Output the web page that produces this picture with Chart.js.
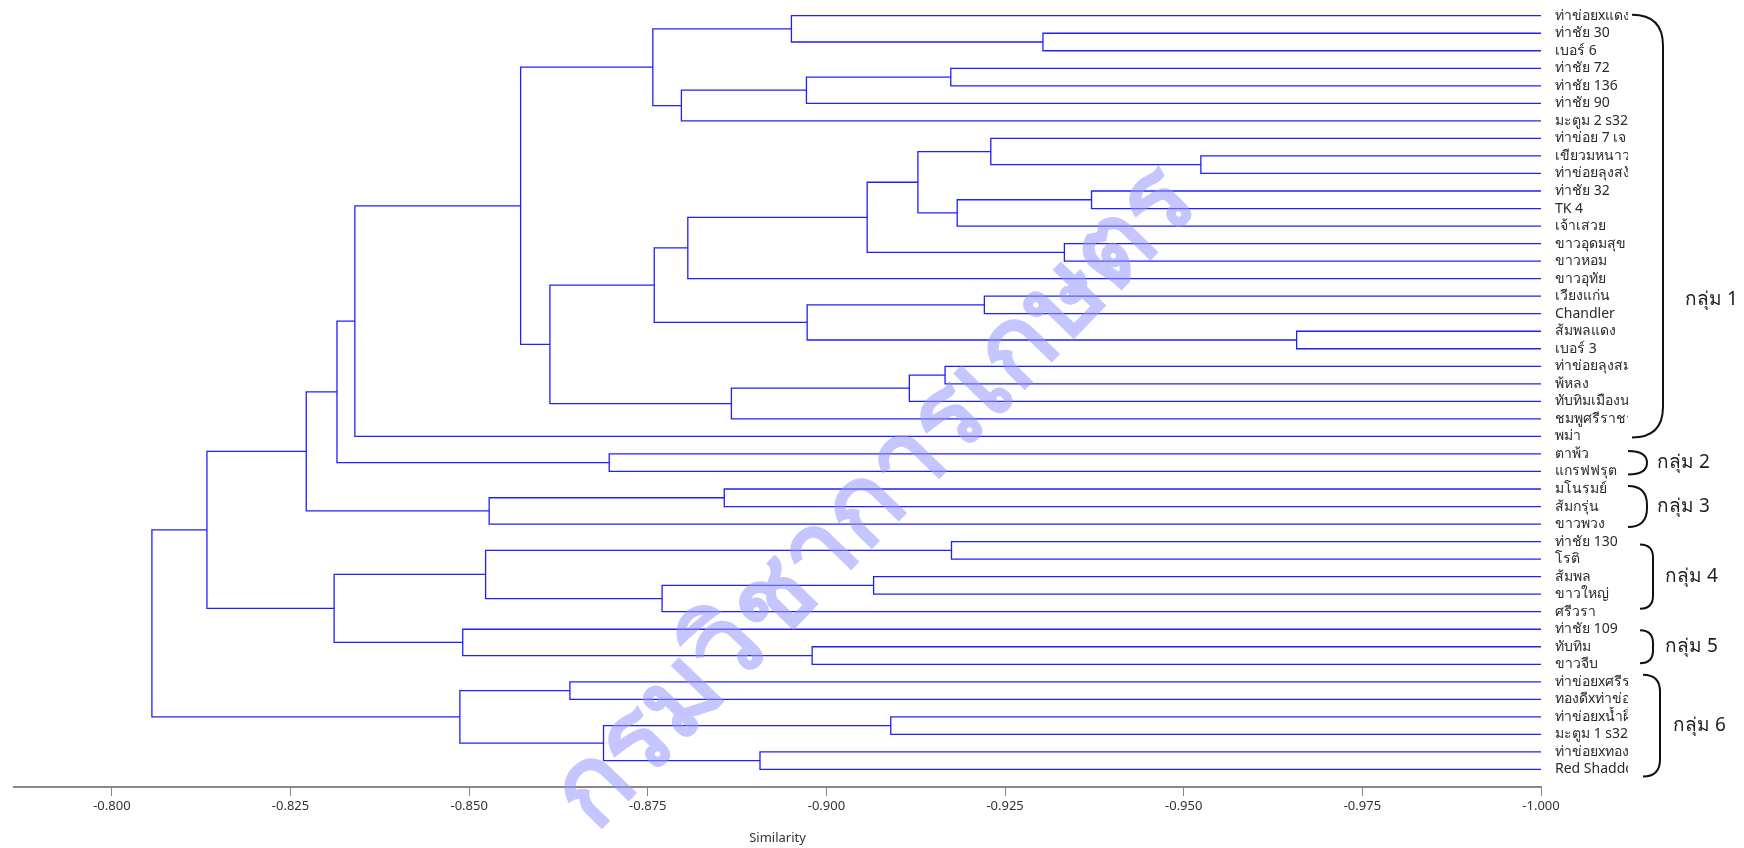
<!DOCTYPE html>
<html>
<head>
<meta charset="utf-8">
<script src="https://cdn.jsdelivr.net/npm/chart.js@4.4.1/dist/chart.umd.min.js"></script>
<style>
  html, body { margin: 0; padding: 0; background: #fff; }
</style>
</head>
<body>
<canvas id="dendro" width="1744" height="848"></canvas>
<script>
// leaves, top to bottom
const leafLabels = [
    'ท่าข่อยxแดง', 'ท่าชัย 30', 'เบอร์ 6', 'ท่าชัย 72', 'ท่าชัย 136', 'ท่าชัย 90', 'มะตูม 2 s32',
    'ท่าข่อย 7 เจ', 'เขียวมหนาว', 'ท่าข่อยลุงสงัด', 'ท่าชัย 32', 'TK 4', 'เจ้าเสวย', 'ขาวอุดมสุข',
    'ขาวหอม', 'ขาวอุทัย', 'เวียงแก่น', 'Chandler', 'ส้มพลแดง', 'เบอร์ 3', 'ท่าข่อยลุงสม',
    'พ้หลง', 'ทับทิมเมืองนคร', 'ชมพูศรีราชา', 'พม่า', 'ตาพ้ว', 'แกรฟฟรุต', 'มโนรมย์', 'ส้มกรุ่น',
    'ขาวพวง', 'ท่าชัย 130', 'โรติ', 'ส้มพล', 'ขาวใหญ่', 'ศรีวรา', 'ท่าชัย 109', 'ทับทิม', 'ขาวจีบ',
    'ท่าข่อยxศรีราชา', 'ทองดีxท่าข่อย', 'ท่าข่อยxน้ำผึ้ง', 'มะตูม 1 s32', 'ท่าข่อยxทองดี', 'Red Shaddock'
];

// merges: ids 0..43 are leaves, merge k makes node 44 + k
const mergeLeft  = [1, 0, 3, 46, 47, 45, 8, 7, 10, 52, 51, 13, 54, 56, 16, 18, 58, 57, 20, 62, 63, 61,
                    49, 66, 25, 67, 27, 70, 69, 30, 32, 74, 73, 36, 35, 76, 72, 38, 40, 42, 82, 81, 80];
const mergeRight = [2, 44, 4, 5, 6, 48, 9, 50, 11, 12, 53, 14, 55, 15, 17, 19, 59, 60, 21, 22, 23, 64,
                    65, 24, 26, 68, 28, 29, 71, 31, 33, 34, 75, 37, 77, 78, 79, 39, 41, 43, 83, 84, 85];
const mergeHeight = [
    -0.9303, -0.8951, -0.9174, -0.8972, -0.8797, -0.8757, -0.9524, -0.9230, -0.9371, -0.9183,
    -0.9128, -0.9333, -0.9057, -0.8806, -0.9221, -0.9658, -0.8973, -0.8759, -0.9166, -0.9116,
    -0.8867, -0.8613, -0.8572, -0.8340, -0.8696, -0.8315, -0.8857, -0.8528, -0.8272, -0.9175,
    -0.9066, -0.8770, -0.8523, -0.8980, -0.8491, -0.8311, -0.8133, -0.8641, -0.9090, -0.8907,
    -0.8688, -0.8487, -0.8056
];
const leafHeight = -1.0;

const tickValues = [-0.800, -0.825, -0.850, -0.875, -0.900, -0.925, -0.950, -0.975, -1.000];

const groupNames = ['กลุ่ม 1', 'กลุ่ม 2', 'กลุ่ม 3', 'กลุ่ม 4', 'กลุ่ม 5', 'กลุ่ม 6'];
const groupFirst = [0, 25, 27, 30, 35, 38];
const groupLast  = [24, 26, 29, 34, 37, 43];

const lineColor = '#1f1fff';
const textFont = '"Noto Sans", "DejaVu Sans", sans-serif';

// build the links from the merge table
const nodeX = [];
const nodeY = [];
for (let i = 0; i < leafLabels.length; i++) {
    nodeX.push(leafHeight);
    nodeY.push(i);
}
const linkSets = [];
for (let k = 0; k < mergeHeight.length; k++) {
    const a = mergeLeft[k], b = mergeRight[k], h = mergeHeight[k];
    linkSets.push({
        data: [
            { x: nodeX[a], y: nodeY[a] },
            { x: h, y: nodeY[a] },
            { x: h, y: nodeY[b] },
            { x: nodeX[b], y: nodeY[b] }
        ],
        showLine: true,
        borderColor: lineColor,
        borderWidth: 1.3,
        pointRadius: 0,
        fill: false,
        tension: 0
    });
    nodeX.push(h);
    nodeY.push((nodeY[a] + nodeY[b]) / 2);
}

// bracket placement per group: open end, spine, label x
const bracketStyle = [
    { x0: 1632, x1: 1663, lx: 1685, pad: 0 },
    { x0: 1628, x1: 1647, lx: 1657, pad: 2 },
    { x0: 1628, x1: 1647, lx: 1657, pad: 2 },
    { x0: 1640, x1: 1653, lx: 1665, pad: -4 },
    { x0: 1640, x1: 1653, lx: 1665, pad: -2 },
    { x0: 1643, x1: 1660, lx: 1673, pad: 6 }
];

const labelPlugin = {
    id: 'labelPlugin',
    afterDatasetsDraw(chart) {
        const ctx = chart.ctx;
        const yScale = chart.scales.y;

        // watermark
        ctx.save();
        ctx.translate(876, 498);
        ctx.rotate(-46 * Math.PI / 180);
        ctx.fillStyle = 'rgba(150,150,255,0.55)';
        ctx.font = 'bold 108px ' + textFont;
        ctx.textAlign = 'center';
        ctx.textBaseline = 'middle';
        ctx.fillText('กรมวิชาการเกษตร', 0, 0);
        ctx.restore();

        // leaf labels, clipped like the original
        ctx.save();
        ctx.font = '14px ' + textFont;
        ctx.fillStyle = '#2a2a2a';
        ctx.textBaseline = 'middle';
        ctx.textAlign = 'left';
        leafLabels.forEach(function (name, i) {
            const y = yScale.getPixelForValue(i);
            ctx.save();
            ctx.beginPath();
            ctx.rect(1552, y - 10, 76, 20);
            ctx.clip();
            ctx.fillText(name, 1555, y);
            ctx.restore();
        });
        ctx.restore();

        // group brackets
        ctx.save();
        ctx.strokeStyle = '#111';
        ctx.lineWidth = 2;
        ctx.fillStyle = '#222';
        ctx.font = '19px ' + textFont;
        ctx.textBaseline = 'middle';
        ctx.textAlign = 'left';
        groupNames.forEach(function (name, g) {
            const st = bracketStyle[g];
            const yTop = yScale.getPixelForValue(groupFirst[g]) - 1 - st.pad;
            const yBot = yScale.getPixelForValue(groupLast[g]) + 1 + st.pad;
            const r = Math.min(st.x1 - st.x0, (yBot - yTop) / 2);
            ctx.beginPath();
            ctx.moveTo(st.x0, yTop);
            ctx.quadraticCurveTo(st.x1, yTop, st.x1, yTop + r);
            ctx.lineTo(st.x1, yBot - r);
            ctx.quadraticCurveTo(st.x1, yBot, st.x0, yBot);
            ctx.stroke();
            ctx.fillText(name, st.lx, g === 0 ? 300 : (yTop + yBot) / 2);
        });
        ctx.restore();
    }
};

new Chart(document.getElementById('dendro'), {
    type: 'scatter',
    data: { datasets: linkSets },
    options: {
        responsive: false,
        animation: false,
        devicePixelRatio: 1,
        layout: { padding: { left: 14, right: 203, top: 0, bottom: 0 } },
        plugins: {
            legend: { display: false },
            tooltip: { enabled: false }
        },
        scales: {
            x: {
                type: 'linear',
                reverse: true,
                min: -1.0,
                max: -0.7863,
                afterBuildTicks: function (scale) {
                    scale.ticks = tickValues.map(function (v) { return { value: v }; });
                },
                afterFit: function (scale) {
                    scale.height = 61;
                },
                ticks: {
                    callback: function (v) { return Number(v).toFixed(3); },
                    font: { family: textFont, size: 13 },
                    color: '#333',
                    padding: 2,
                    maxRotation: 0
                },
                grid: {
                    drawOnChartArea: false,
                    drawTicks: true,
                    tickLength: 9,
                    color: '#888',
                    lineWidth: 1
                },
                border: { display: true, color: '#888', width: 2 },
                title: {
                    display: true,
                    text: 'Similarity',
                    font: { family: textFont, size: 13 },
                    color: '#333',
                    padding: { top: 0, bottom: 2 }
                }
            },
            y: {
                type: 'linear',
                reverse: true,
                min: -0.896,
                max: 44.0,
                display: false
            }
        }
    },
    plugins: [labelPlugin]
});
</script>
</body>
</html>
